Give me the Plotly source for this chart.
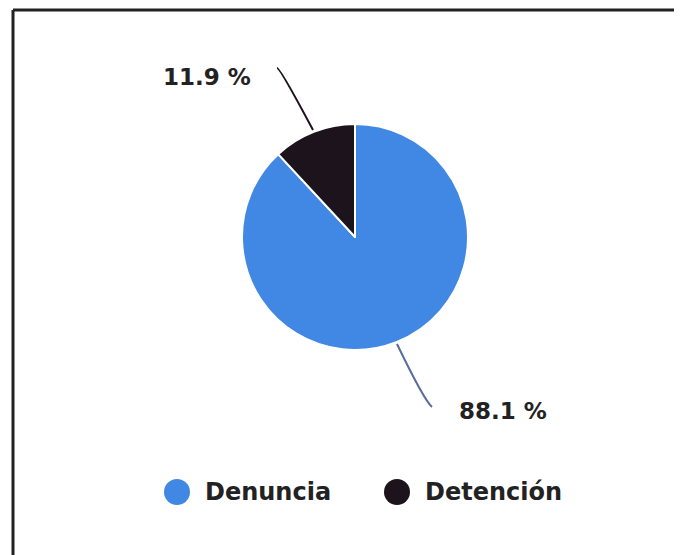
import math
import plotly.graph_objects as go

# Data
categories = ["Denuncia", "Detención"]
values = [88.1, 11.9]
colors = ["#4088e4", "#1d131d"]
leader_colors = ["#5a6c9e", "#1d131d"]

W, H = 682, 555
OFF = 8  # page body margin
CX, CY, R = 355 - OFF, 237 - OFF, 113  # pie centre / radius in px


def px_to_paper(x, y):
    return x / W, 1 - y / H


fig = go.Figure()
fig.add_trace(go.Pie(
    labels=categories,
    values=values,
    sort=False,
    direction="clockwise",
    rotation=0,
    marker=dict(colors=colors, line=dict(color="white", width=2)),
    textinfo="none",
    hoverinfo="label+percent",
    showlegend=False,
    domain=dict(x=[(CX - R) / W, (CX + R) / W],
                y=[(H - CY - R) / H, (H - CY + R) / H]),
))

# Outside labels with curved leader lines, placed from each slice's mid angle
shapes = []
annotations = []
total = sum(values)
start = 0.0
label_font = dict(family="DejaVu Sans, sans-serif", size=23, color="#222222")
legend_font = dict(family="DejaVu Sans, sans-serif", size=24, color="#222222")
for i, v in enumerate(values):
    mid = (start + v / 2) / total * 2 * math.pi  # clockwise from 12 o'clock
    start += v
    sx = CX + (R + 2) * math.sin(mid)
    sy = CY - (R + 2) * math.cos(mid)
    side = 1 if math.sin(mid) >= 0 else -1
    if math.cos(mid) > 0:  # upper half: line goes up
        ex, ey = sx + 36 * side, sy - 62
        qx, qy = sx + 33 * side, sy - 62
        tx, ty = ex - 24, ey + 9
        anchor = "right"
    else:  # lower half: line goes down
        ex, ey = sx + 35 * side, sy + 63
        qx, qy = sx + 27 * side, sy + 56
        tx, ty = ex + 25, ey + 4
        anchor = "left"
    p0 = px_to_paper(sx, sy)
    pq = px_to_paper(qx, qy)
    p1 = px_to_paper(ex, ey)
    shapes.append(dict(
        type="path", xref="paper", yref="paper",
        path=f"M {p0[0]},{p0[1]} Q {pq[0]},{pq[1]} {p1[0]},{p1[1]}",
        line=dict(color=leader_colors[i], width=2),
    ))
    tp = px_to_paper(tx, ty)
    annotations.append(dict(
        x=tp[0], y=tp[1], xref="paper", yref="paper",
        text=f"<b>{v:.1f} %</b>", showarrow=False,
        xanchor=anchor, yanchor="middle", font=label_font,
    ))

# Legend with round markers
legend_y = 492 - OFF
legend_x = [177 - OFF, 397 - OFF]
for i, name in enumerate(categories):
    c0 = px_to_paper(legend_x[i] - 13, legend_y - 13)
    c1 = px_to_paper(legend_x[i] + 13, legend_y + 13)
    shapes.append(dict(
        type="circle", xref="paper", yref="paper",
        x0=c0[0], y0=c1[1], x1=c1[0], y1=c0[1],
        fillcolor=colors[i], line=dict(width=0),
    ))
    tp = px_to_paper(legend_x[i] + 26, legend_y)
    annotations.append(dict(
        x=tp[0], y=tp[1], xref="paper", yref="paper",
        text=f"<b>{name}</b>", showarrow=False,
        xanchor="left", yanchor="middle", font=legend_font,
    ))

# Frame (only top and left edges visible in the crop)
f0 = px_to_paper(13 - OFF, 10 - OFF)
shapes.append(dict(type="line", xref="paper", yref="paper",
                   x0=f0[0], y0=f0[1], x1=1.01, y1=f0[1],
                   line=dict(color="#222222", width=3)))
shapes.append(dict(type="line", xref="paper", yref="paper",
                   x0=f0[0], y0=f0[1], x1=f0[0], y1=-0.01,
                   line=dict(color="#222222", width=3)))

fig.update_layout(
    width=W, height=H,
    margin=dict(l=0, r=0, t=0, b=0),
    paper_bgcolor="white",
    plot_bgcolor="white",
    shapes=shapes,
    annotations=annotations,
    showlegend=False,
)

fig.write_html("out.html")
